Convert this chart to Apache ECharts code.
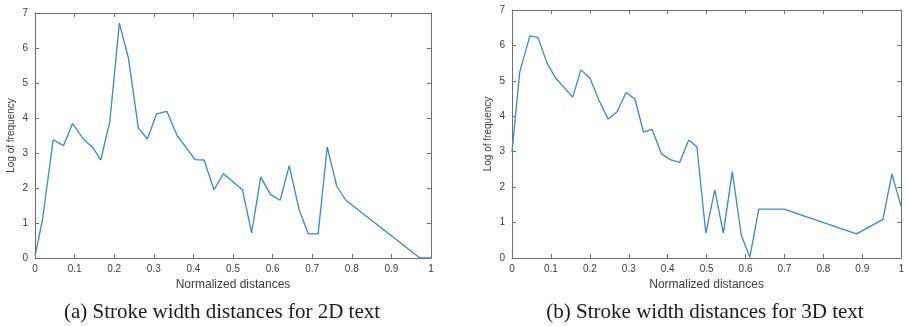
<!DOCTYPE html>
<html>
<head>
<meta charset="utf-8">
<script src="https://cdn.jsdelivr.net/npm/echarts@6/dist/echarts.min.js"></script>
<style>
  html, body { margin: 0; padding: 0; background: #fff; }
  #chart { width: 907px; height: 326px; }
</style>
</head>
<body>
<div id="chart"></div>
<script>
// values
const xTickLabels = ["0", "0.1", "0.2", "0.3", "0.4", "0.5", "0.6", "0.7", "0.8", "0.9", "1"];
const yTickLabels = ["0", "1", "2", "3", "4", "5", "6", "7"];

// (a) 2D text
const leftX = [0, 0.019, 0.046, 0.072, 0.095, 0.122, 0.147, 0.166, 0.189, 0.213, 0.236, 0.261, 0.284,
  0.307, 0.333, 0.358, 0.404, 0.427, 0.452, 0.476, 0.524, 0.547, 0.57, 0.595, 0.619, 0.642, 0.667,
  0.69, 0.715, 0.738, 0.762, 0.785, 0.972, 1];
const leftY = [0.05, 1.1, 3.38, 3.21, 3.84, 3.4, 3.14, 2.8, 3.9, 6.71, 5.71, 3.71, 3.4,
  4.12, 4.19, 3.52, 2.81, 2.8, 1.95, 2.41, 1.95, 0.72, 2.31, 1.81, 1.65, 2.64, 1.38,
  0.69, 0.69, 3.17, 2.05, 1.65, 0, 0];

// (b) 3D text
const rightX = [0, 0.02, 0.046, 0.067, 0.09, 0.112, 0.156, 0.177, 0.2, 0.223, 0.247, 0.27, 0.293,
  0.316, 0.338, 0.36, 0.384, 0.408, 0.431, 0.454, 0.475, 0.498, 0.521, 0.543, 0.566, 0.589, 0.611,
  0.634, 0.699, 0.885, 0.953, 0.976, 1];
const rightY = [3.0, 5.26, 6.27, 6.22, 5.5, 5.08, 4.54, 5.31, 5.08, 4.46, 3.92, 4.13, 4.67,
  4.48, 3.55, 3.63, 2.94, 2.77, 2.7, 3.33, 3.14, 0.7, 1.92, 0.7, 2.44, 0.65, 0.02,
  1.38, 1.38, 0.68, 1.09, 2.37, 1.45];

const captions = ["(a) Stroke width distances for 2D text", "(b) Stroke width distances for 3D text"];
const xName = "Normalized distances";
const yName = "Log of frequency";

const axisColor = "#6e6e6e";
const labelColor = "#3c3c3c";
const lineColor = "#3a88c4";
const sans = "'Liberation Sans', Arial, sans-serif";

const chart = echarts.init(document.getElementById("chart"));

const grids = [
  { left: 35, top: 13, width: 396, height: 245 },
  { left: 512, top: 10, width: 394, height: 248 },
];

const xAxes = [];
const yAxes = [];
grids.forEach((g, i) => {
  // bottom axis with labels
  xAxes.push({
    type: "value", gridIndex: i, min: 0, max: 1, interval: 0.1, position: "bottom",
    name: xName, nameLocation: "middle", nameGap: 18,
    nameTextStyle: { fontFamily: sans, fontSize: 12, color: labelColor },
    axisLine: { onZero: false, lineStyle: { color: axisColor, width: 1 } },
    axisTick: { inside: true, length: 4, lineStyle: { color: axisColor } },
    axisLabel: {
      fontFamily: sans, fontSize: 10, color: labelColor, margin: 6,
      formatter: (v) => xTickLabels[Math.round(v * 10)],
    },
    splitLine: { show: false },
  });
  // top box edge
  xAxes.push({
    type: "value", gridIndex: i, min: 0, max: 1, interval: 0.1, position: "top",
    axisLine: { show: true, onZero: false, lineStyle: { color: axisColor, width: 1 } },
    axisTick: { show: true, inside: true, length: 4, lineStyle: { color: axisColor } },
    axisLabel: { show: false },
    splitLine: { show: false },
  });
  // left axis with labels
  yAxes.push({
    type: "value", gridIndex: i, min: 0, max: 7, interval: 1, position: "left",
    name: yName, nameLocation: "middle", nameGap: 19,
    nameTextStyle: { fontFamily: sans, fontSize: 10, color: labelColor },
    axisLine: { show: true, onZero: false, lineStyle: { color: axisColor, width: 1 } },
    axisTick: { show: true, inside: true, length: 4, lineStyle: { color: axisColor } },
    axisLabel: {
      fontFamily: sans, fontSize: 10, color: labelColor, margin: 7,
      formatter: (v) => yTickLabels[Math.round(v)],
    },
    splitLine: { show: false },
  });
  // right box edge
  yAxes.push({
    type: "value", gridIndex: i, min: 0, max: 7, interval: 1, position: "right",
    axisLine: { show: true, onZero: false, lineStyle: { color: axisColor, width: 1 } },
    axisTick: { show: true, inside: true, length: 4, lineStyle: { color: axisColor } },
    axisLabel: { show: false },
    splitLine: { show: false },
  });
});

const toPairs = (xs, ys) => xs.map((x, i) => [x, ys[i]]);

const option = {
  animation: false,
  backgroundColor: "#ffffff",
  grid: grids,
  xAxis: xAxes,
  yAxis: yAxes,
  series: [
    {
      type: "line", xAxisIndex: 0, yAxisIndex: 0,
      data: toPairs(leftX, leftY),
      showSymbol: false,
      lineStyle: { color: lineColor, width: 1.3 },
    },
    {
      type: "line", xAxisIndex: 2, yAxisIndex: 2,
      data: toPairs(rightX, rightY),
      showSymbol: false,
      lineStyle: { color: lineColor, width: 1.3 },
    },
  ],
  graphic: [
    {
      type: "text", x: 222, y: 312,
      style: {
        text: captions[0], align: "center", verticalAlign: "middle",
        font: "21px 'Liberation Serif', 'Times New Roman', serif", fill: "#1a1a1a",
      },
    },
    {
      type: "text", x: 705, y: 312,
      style: {
        text: captions[1], align: "center", verticalAlign: "middle",
        font: "21px 'Liberation Serif', 'Times New Roman', serif", fill: "#1a1a1a",
      },
    },
  ],
};

chart.setOption(option);
</script>
</body>
</html>
